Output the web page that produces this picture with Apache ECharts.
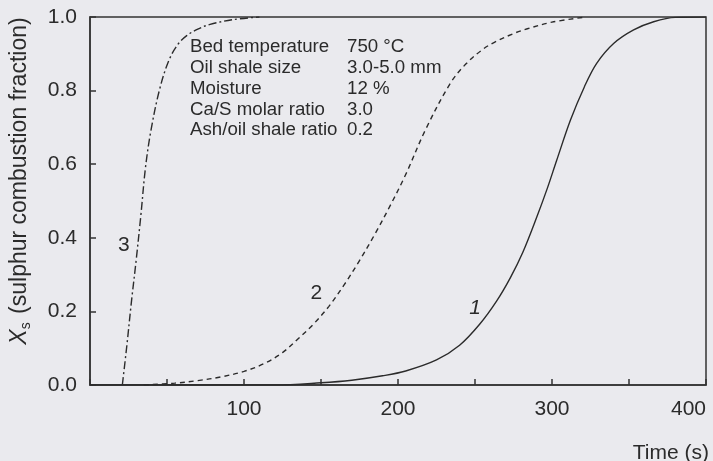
<!DOCTYPE html>
<html>
<head>
<meta charset="utf-8">
<script src="https://cdn.jsdelivr.net/npm/echarts@6/dist/echarts.min.js"></script>
<style>
  html, body { margin: 0; padding: 0; background: #eaeaee; }
  #chart { width: 713px; height: 461px; }
</style>
</head>
<body>
<div id="chart"></div>
<script>
// curve 1 (solid)
const time1 = [0, 120, 150, 170, 190, 205, 225, 240, 253, 264, 273, 281, 290, 297, 303, 312, 321, 329, 340, 353, 366, 380, 400];
const frac1 = [0, 0, 0.006, 0.013, 0.025, 0.038, 0.068, 0.108, 0.165, 0.228, 0.292, 0.36, 0.455, 0.535, 0.61, 0.72, 0.81, 0.874, 0.928, 0.965, 0.987, 0.999, 1.0];

// curve 2 (dashed)
const time2 = [35, 55, 70, 85, 100, 113, 125, 135, 145, 155, 165, 175, 185, 195, 205, 218, 234, 244, 255, 262, 275, 284, 300, 322];
const frac2 = [0, 0.005, 0.012, 0.022, 0.037, 0.058, 0.088, 0.125, 0.165, 0.213, 0.272, 0.338, 0.41, 0.488, 0.572, 0.695, 0.82, 0.872, 0.912, 0.93, 0.955, 0.968, 0.986, 1.0];

// curve 3 (dash-dot)
const time3 = [21, 24, 27, 30, 33, 36, 39.5, 45, 51, 57, 63, 70, 78, 93, 110];
const frac3 = [0, 0.11, 0.23, 0.34, 0.46, 0.59, 0.69, 0.80, 0.88, 0.925, 0.95, 0.967, 0.98, 0.993, 1.0];

// curve number labels, in data coordinates
const curveNames = ["1", "2", "3"];
const curveLabelAt = [[250, 0.208], [147, 0.25], [22, 0.38]];

// operating conditions
const paramNames = ["Bed temperature", "Oil shale size", "Moisture", "Ca/S molar ratio", "Ash/oil shale ratio"];
const paramValues = ["750 °C", "3.0-5.0 mm", "12 %", "3.0", "0.2"];

const ink = "#2b2b2b";
const font = "'Liberation Sans', Arial, sans-serif";

const myChart = echarts.init(document.getElementById("chart"));

function pairs(ts, ys) {
  return ts.map((t, i) => [t, ys[i]]);
}

function curve(idx, ts, ys, dash) {
  return {
    name: curveNames[idx],
    type: "line",
    data: pairs(ts, ys),
    smooth: 0.35,
    showSymbol: false,
    silent: true,
    lineStyle: { color: ink, width: 1.4, type: dash },
    markPoint: {
      symbol: "circle",
      symbolSize: 0,
      silent: true,
      label: {
        show: true,
        position: "inside",
        color: ink,
        fontSize: 21,
        fontFamily: font,
        fontStyle: idx === 0 ? "italic" : "normal",
        formatter: curveNames[idx],
      },
      data: [{ coord: curveLabelAt[idx] }],
    },
  };
}

const option = {
  backgroundColor: "#eaeaee",
  animation: false,
  grid: {
    left: 90,
    right: 7,
    top: 17,
    bottom: 76,
    outerBoundsMode: "none",
    show: true,
    borderColor: "#333",
    borderWidth: 1.5,
    backgroundColor: "transparent",
  },
  xAxis: {
    type: "value",
    min: 0,
    max: 400,
    interval: 50,
    name: "Time (s)",
    nameLocation: "end",
    nameGap: 3,
    nameTextStyle: {
      color: ink,
      fontSize: 21,
      fontFamily: font,
      align: "right",
      verticalAlign: "top",
      padding: [58, 0, 0, 0],
    },
    axisLine: { lineStyle: { color: "#333", width: 1.5 } },
    axisTick: { inside: true, length: 6, lineStyle: { color: "#333", width: 1.5 } },
    axisLabel: {
      color: ink,
      fontSize: 21,
      fontFamily: font,
      margin: 14,
      alignMaxLabel: "right",
      formatter: (v) => (v > 0 && v % 100 === 0 ? String(v) : ""),
    },
    splitLine: { show: false },
  },
  yAxis: {
    type: "value",
    min: 0,
    max: 1,
    interval: 0.2,
    name: "{x|X}{s|s} (sulphur combustion fraction)",
    nameLocation: "middle",
    nameRotate: 90,
    nameGap: 57,
    nameTextStyle: {
      color: ink,
      fontSize: 23,
      fontFamily: font,
      padding: [0, 0, 0, 40],
      rich: {
        x: { fontSize: 23, fontFamily: font, fontStyle: "italic", color: ink },
        s: { fontSize: 14, fontFamily: font, color: ink, verticalAlign: "bottom", padding: [12, 2, 0, 0] },
      },
    },
    axisLine: { show: true, lineStyle: { color: "#333", width: 1.5 } },
    axisTick: { show: true, inside: true, length: 6, lineStyle: { color: "#333", width: 1.5 } },
    axisLabel: {
      color: ink,
      fontSize: 21,
      fontFamily: font,
      margin: 13,
      formatter: (v) => v.toFixed(1),
    },
    splitLine: { show: false },
  },
  graphic: [
    {
      type: "text",
      left: 190,
      top: 37,
      silent: true,
      style: {
        text: paramNames.join("\n"),
        fill: ink,
        font: "18.7px " + font,
        lineHeight: 20.7,
      },
    },
    {
      type: "text",
      left: 347,
      top: 37,
      silent: true,
      style: {
        text: paramValues.join("\n"),
        fill: ink,
        font: "18.7px " + font,
        lineHeight: 20.7,
      },
    },
  ],
  series: [
    curve(0, time1, frac1, "solid"),
    curve(1, time2, frac2, [5, 4]),
    curve(2, time3, frac3, [8, 3, 2, 3]),
  ],
};

myChart.setOption(option);
</script>
</body>
</html>
